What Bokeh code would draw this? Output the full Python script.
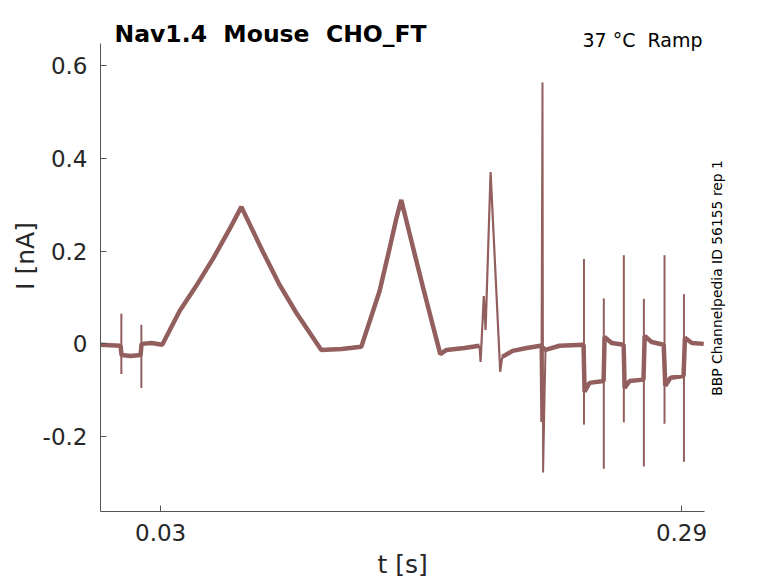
from math import pi

from bokeh.plotting import figure
from bokeh.models import Range1d, FixedTicker, Label, LinearAxis
from bokeh.embed import file_html
from bokeh.resources import INLINE

# slow part of the recorded trace (flat holding levels and the two slow ramps)
trace_t = [0.0000, 0.0100, 0.0105, 0.0150, 0.0200, 0.0205, 0.0255, 0.0308,
           0.0395, 0.0478, 0.0561, 0.0644, 0.0703,
           0.0811, 0.0894, 0.0977, 0.1102,
           0.1203, 0.1302,
           0.1393, 0.1443, 0.1476, 0.1501,
           0.1559, 0.1609, 0.1659, 0.1696,
           0.1727, 0.1817, 0.1892]
trace_i = [-0.002, -0.004, -0.024, -0.026, -0.024, 0.000, 0.002, -0.002,
           0.071, 0.125, 0.183, 0.247, 0.295,
           0.198, 0.127, 0.067, -0.013,
           -0.011, -0.006,
           0.114, 0.206, 0.269, 0.310,
           0.209, 0.123, 0.039, -0.022,
           -0.013, -0.009, -0.004]

# trace after the fast ramp: holding levels between the steps
tail_t = [0.2005, 0.2057, 0.2127, 0.2197, 0.2221, 0.2291, 0.2411,
          0.2416, 0.2441, 0.2511,
          0.2516, 0.2551, 0.2611,
          0.2616, 0.2641, 0.2710,
          0.2716, 0.2751, 0.2811,
          0.2819, 0.2845, 0.2910,
          0.2917, 0.2952, 0.3011]
tail_i = [-0.028, -0.015, -0.009, -0.004, -0.013, -0.004, -0.002,
          -0.103, -0.084, -0.080,
          0.015, 0.002, -0.002,
          -0.095, -0.080, -0.077,
          0.017, 0.004, -0.002,
          -0.090, -0.073, -0.069,
          0.013, 0.002, 0.000]

# fast ramp and the short flash
fast_t = [0.1892, 0.1897, 0.1913, 0.1922, 0.1947, 0.1995, 0.2005]
fast_i = [-0.004, -0.039, 0.103, 0.030, 0.370, -0.060, -0.028]
flash_t = [0.2196, 0.2200, 0.2206, 0.2209, 0.2216, 0.2221]
flash_i = [-0.004, -0.168, 0.563, -0.277, -0.120, -0.013]

# capacitive transients at each step
spike_t = [0.0104, 0.0204, 0.2413, 0.2512, 0.2612, 0.2712, 0.2815, 0.2912]
spike_hi = [0.065, 0.041, 0.183, 0.098, 0.191, 0.097, 0.191, 0.107]
spike_lo = [-0.065, -0.095, -0.174, -0.269, -0.169, -0.264, -0.172, -0.254]

x_ticks = [0.03, 0.29]
y_ticks = [-0.2, 0, 0.2, 0.4, 0.6]

col = "#925f5e"
axcol = "#262626"
font = "DejaVu Sans"
nb = "\u00a0"  # keeps the double spaces of the titles

# frame runs up to the top and right edge so the texts there are not clipped;
# the axis lines are cut back with bounds
p = figure(width=770, height=581, output_backend="svg", toolbar_location=None,
           x_range=Range1d(0, 0.3344), y_range=Range1d(-0.361, 0.7395),
           min_border_left=100, min_border_right=0, min_border_top=0,
           min_border_bottom=69)
p.outline_line_color = None
p.xgrid.visible = False
p.ygrid.visible = False

p.line(trace_t, trace_i, color=col, line_width=4.5)
p.line(tail_t, tail_i, color=col, line_width=4.5)
p.line(fast_t, fast_i, color=col, line_width=2.2)
p.line(flash_t, flash_i, color=col, line_width=2)
p.segment(x0=spike_t, y0=spike_hi, x1=spike_t, y1=spike_lo, color=col, line_width=2)

p.xaxis.bounds = (0, 0.3015)
p.yaxis.bounds = (-0.361, 0.647)
p.xaxis.ticker = FixedTicker(ticks=x_ticks)
p.yaxis.ticker = FixedTicker(ticks=y_ticks)
p.xaxis.major_label_overrides = {0.03: "0.03", 0.29: "0.29"}
p.yaxis.major_label_overrides = {-0.2: "-0.2", 0: "0", 0.2: "0.2", 0.4: "0.4", 0.6: "0.6"}
p.yaxis.axis_label = "I [nA]"

for ax in (p.xaxis, p.yaxis):
    ax.axis_line_color = "#555555"
    ax.major_tick_line_color = "#555555"
    ax.major_tick_in = 6
    ax.major_tick_out = 0
    ax.minor_tick_line_color = None
    ax.major_label_text_font = font
    ax.major_label_text_font_size = "23px"
    ax.major_label_text_color = axcol
    ax.axis_label_text_font = font
    ax.axis_label_text_font_size = "25px"
    ax.axis_label_text_font_style = "normal"
    ax.axis_label_text_color = axcol
p.xaxis.major_label_standoff = 12
p.yaxis.major_label_standoff = 13
p.yaxis.axis_label_standoff = 0

# x label sits under the middle of the drawn axis, not of the wider frame
xlab = LinearAxis(ticker=FixedTicker(ticks=[0.1508]),
                  major_label_overrides={0.1508: "t [s]"},
                  axis_line_color=None, major_tick_line_color=None,
                  minor_tick_line_color=None, major_label_standoff=0,
                  major_label_text_font=font, major_label_text_font_size="25px",
                  major_label_text_color=axcol)
p.add_layout(xlab, "below")

p.add_layout(Label(x=0.007, y=0.6666, text=f"Nav1.4 {nb}Mouse {nb}CHO_FT",
                   text_font=font, text_font_size="23.5px", text_font_style="bold",
                   text_color="black", text_baseline="alphabetic"))
p.add_layout(Label(x=0.3005, y=0.6537, text=f"37 °C {nb}Ramp",
                   text_font=font, text_font_size="19px", text_color="black",
                   text_align="right", text_baseline="alphabetic"))
p.add_layout(Label(x=0.3075, y=0.142, text="BBP Channelpedia ID 56155 rep 1",
                   angle=pi / 2, text_font=font, text_font_size="13.9px",
                   text_color="black", text_align="center", text_baseline="middle"))

open("out.html", "w").write(file_html(p, INLINE))
